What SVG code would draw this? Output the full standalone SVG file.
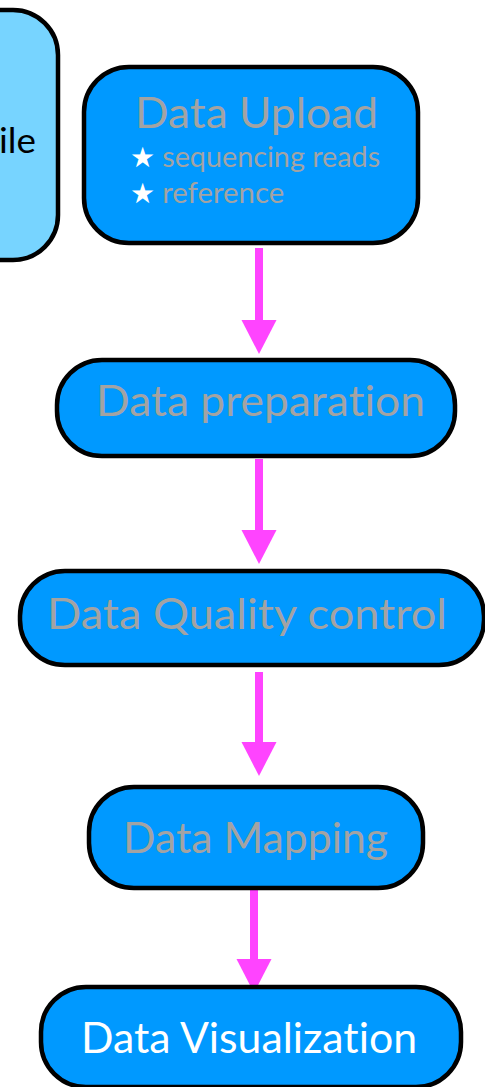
<svg xmlns="http://www.w3.org/2000/svg" width="485" height="1087" viewBox="0 0 485 1087">
<style>
text{font-variant-ligatures:none}
.box{fill:#0099ff;stroke:#000;stroke-width:4.5}
.side{fill:#77d4ff;stroke:#000;stroke-width:4.5}
.t{font-family:Lato,"Liberation Sans",sans-serif;fill:#a3a3a3;text-anchor:middle}
.w{fill:#ffffff}
.s{font-family:Lato,"Liberation Sans",sans-serif;fill:#a3a3a3;font-size:28px}
.shaft{stroke:#ff44ff;stroke-width:8}
.head{fill:#ff44ff}
</style>
<rect width="485" height="1087" fill="#fff"/>
<g id="node-side">
<rect class="side" x="-60" y="10" width="118" height="250" rx="45"/>
<text x="-1" y="153" font-family="Lato,'Liberation Sans',sans-serif" font-size="35" fill="#000" textLength="37" lengthAdjust="spacingAndGlyphs">ile</text>
</g>
<g id="connectors">
<line class="shaft" x1="259" y1="248" x2="259" y2="322"/>
<polygon class="head" points="241.5,320 276.5,320 259,354"/>
<line class="shaft" x1="259" y1="459" x2="259" y2="532"/>
<polygon class="head" points="241.5,530 276.5,530 259,564"/>
<line class="shaft" x1="259" y1="672" x2="259" y2="744"/>
<polygon class="head" points="241.5,742 276.5,742 259,776"/>
<line class="shaft" x1="254" y1="888" x2="254" y2="961"/>
<polygon class="head" points="236.5,959 271.5,959 254,993"/>
</g>
<g id="node-upload">
<rect class="box" x="84" y="67" width="334" height="176" rx="45"/>
<text class="t" x="256.5" y="128" font-size="43" textLength="243" lengthAdjust="spacingAndGlyphs">Data Upload</text>
<text class="s" x="130" y="167"><tspan fill="#fff">★</tspan> <tspan textLength="218" lengthAdjust="spacingAndGlyphs">sequencing reads</tspan></text>
<text class="s" x="130" y="203"><tspan fill="#fff">★</tspan> <tspan textLength="122" lengthAdjust="spacingAndGlyphs">reference</tspan></text>
</g>
<g id="node-prep">
<rect class="box" x="57" y="360" width="398" height="96" rx="45"/>
<text class="t" x="260.5" y="416" font-size="43" textLength="329" lengthAdjust="spacingAndGlyphs">Data preparation</text>
</g>
<g id="node-qc">
<rect class="box" x="20" y="571" width="464" height="94" rx="45"/>
<text class="t" x="247" y="629" font-size="43" textLength="400" lengthAdjust="spacingAndGlyphs">Data Quality control</text>
</g>
<g id="node-mapping">
<rect class="box" x="89" y="787" width="334" height="101" rx="45"/>
<text class="t" x="255.5" y="853" font-size="43" textLength="265" lengthAdjust="spacingAndGlyphs">Data Mapping</text>
</g>
<g id="node-vis">
<rect class="box" x="41" y="987" width="420" height="100" rx="45"/>
<text class="t w" x="249" y="1053" font-size="43" textLength="336" lengthAdjust="spacingAndGlyphs">Data Visualization</text>
</g>
</svg>
